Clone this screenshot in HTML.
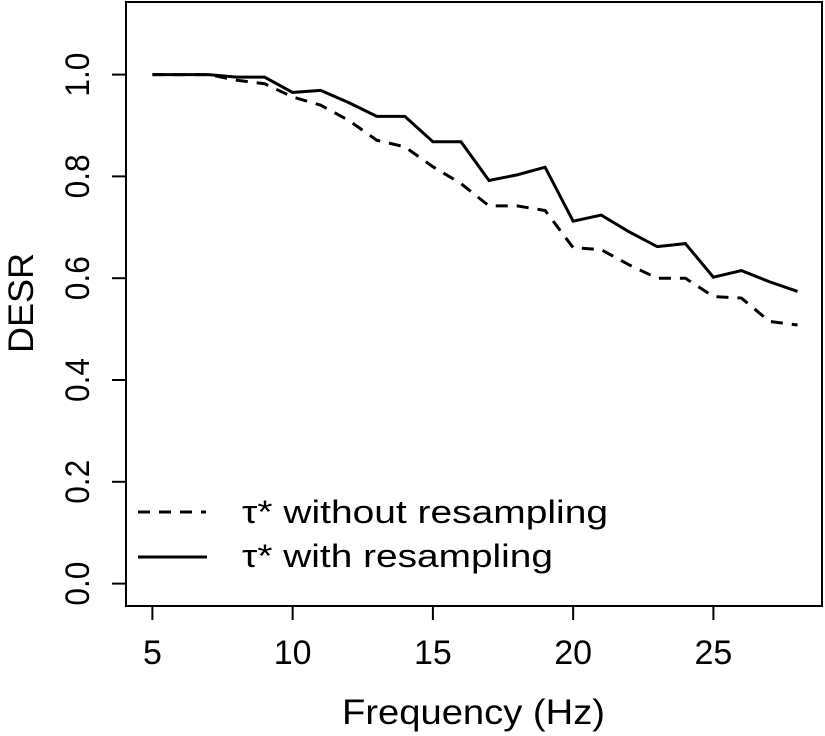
<!DOCTYPE html>
<html><head><meta charset="utf-8"><style>
html,body{margin:0;padding:0;background:#fff;}
svg{display:block;font-family:"Liberation Sans",Arial,sans-serif;}
</style></head><body>
<svg id="chart" width="825" height="736" viewBox="0 0 825 736" xmlns="http://www.w3.org/2000/svg">
<rect x="126" y="2" width="696" height="604" fill="none" stroke="#000" stroke-width="2"/>
<g id="xaxis"></g>
<g id="yaxis"></g>
<text x="342" y="724" font-size="35" textLength="263" lengthAdjust="spacingAndGlyphs">Frequency (Hz)</text>
<text transform="translate(33,303) rotate(-90)" font-size="35" text-anchor="middle" textLength="100" lengthAdjust="spacingAndGlyphs">DESR</text>
<g id="series"></g>
<g>
<line x1="138" y1="512" x2="206" y2="512" stroke="#000" stroke-width="3" stroke-dasharray="12,9"/>
<text x="242" y="523" font-size="32" textLength="366" lengthAdjust="spacingAndGlyphs">τ* without resampling</text>
<line x1="138" y1="557" x2="207" y2="557" stroke="#000" stroke-width="3"/>
<text x="242" y="567" font-size="32" textLength="311" lengthAdjust="spacingAndGlyphs">τ* with resampling</text>
</g>
</svg>
<script>
const freqs=[5,6,7,8,9,10,11,12,13,14,15,16,17,18,19,20,21,22,23,24,25,26,27,28];
const withoutResampling=[1,1,1,0.989,0.982,0.956,0.940,0.910,0.871,0.858,0.819,0.786,0.742,0.742,0.733,0.660,0.656,0.626,0.600,0.600,0.564,0.561,0.515,0.508];
const withResampling=[1,1,1,0.995,0.995,0.965,0.969,0.945,0.918,0.918,0.868,0.868,0.792,0.803,0.818,0.712,0.724,0.691,0.662,0.668,0.602,0.615,0.593,0.574];
const xTicks=[5,10,15,20,25];
const yTicks=[0,0.2,0.4,0.6,0.8,1.0];
const yTickLabels=["0.0","0.2","0.4","0.6","0.8","1.0"];
const NS="http://www.w3.org/2000/svg";
function xs(v){return 152.4+(v-5)*28.05;}
function ys(v){return 583.6-v*509;}
function mk(tag,attrs,parent){const e=document.createElementNS(NS,tag);for(const k in attrs)e.setAttribute(k,attrs[k]);parent.appendChild(e);return e;}
const xa=document.getElementById('xaxis'),ya=document.getElementById('yaxis'),sg=document.getElementById('series');
xTicks.forEach(t=>{
 const l=mk('line',{x1:xs(t),x2:xs(t),y1:606,y2:620,stroke:'#000','stroke-width':2},xa);
 
 
 const tx=mk('text',{x:xs(t),y:664,'font-size':34,'text-anchor':'middle'},xa);
 tx.textContent=t;
 
 
});
yTicks.forEach((t,i)=>{
 const l=mk('line',{x1:112,x2:126,y1:ys(t),y2:ys(t),stroke:'#000','stroke-width':2},ya);
 
 
 const tx=mk('text',{transform:'translate(89,'+ys(t)+') rotate(-90)','font-size':34,'text-anchor':'middle',textLength:44,lengthAdjust:'spacingAndGlyphs'},ya);
 tx.textContent=yTickLabels[i];
 
 
});
function pts(arr){return arr.map((v,i)=>xs(freqs[i])+','+ys(v)).join(' ');}
const d=mk('polyline',{points:pts(withoutResampling),fill:'none',stroke:'#000','stroke-width':3,'stroke-dasharray':'12,9'},sg);


const s=mk('polyline',{points:pts(withResampling),fill:'none',stroke:'#000','stroke-width':3},sg);


</script>
</body></html>
